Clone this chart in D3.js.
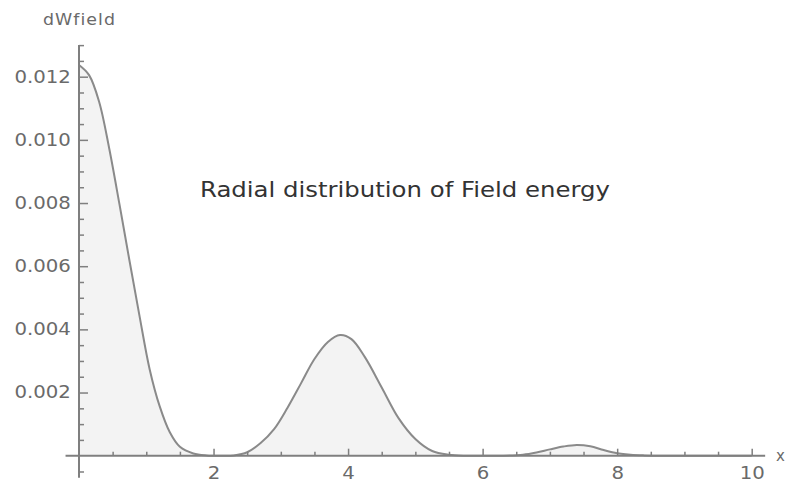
<!DOCTYPE html>
<html>
<head>
<meta charset="utf-8">
<script src="https://cdn.jsdelivr.net/npm/d3@7"></script>
<style>
  body { margin: 0; background: #fff; }
  svg { display: block; }
</style>
</head>
<body>
<div id="container"></div>
<script>
// radial distance r and field energy density dWfield
var rValues = [0, 0.15, 0.3, 0.45, 0.6, 0.75, 0.9, 1.05, 1.2, 1.35, 1.5, 1.7, 1.9, 2.1, 2.3,
    2.5, 2.7, 2.9, 3.1, 3.3, 3.5, 3.7, 3.88, 4.05, 4.25, 4.5, 4.75, 5.0, 5.25, 5.5, 5.75,
    6.0, 6.3, 6.6, 6.8, 7.0, 7.2, 7.4, 7.6, 7.8, 8.0, 8.2, 8.4, 8.7, 9.0, 9.5, 10.0];
var wValues = [12.37, 12.05, 11.2, 9.72, 7.98, 6.18, 4.42, 2.74, 1.56, 0.74, 0.28, 0.07, 0.01, 0.0, 0.01,
    0.11, 0.40, 0.84, 1.52, 2.29, 3.06, 3.6, 3.82, 3.69, 3.12, 2.16, 1.19, 0.53, 0.15, 0.03, 0.0,
    0.0, 0.0, 0.03, 0.10, 0.20, 0.29, 0.34, 0.30, 0.18, 0.08, 0.03, 0.01, 0.0, 0.0, 0.0, 0.0]
    .map(v => v / 1000);

var xMajorTicks = [2, 4, 6, 8, 10];
var xMinorTicks = [0.5, 1, 1.5, 2.5, 3, 3.5, 4.5, 5, 5.5, 6.5, 7, 7.5, 8.5, 9, 9.5];
var yMajorTicks = [0.002, 0.004, 0.006, 0.008, 0.010, 0.012];
var yMinorTicks = [-0.0005, 0.0005, 0.001, 0.0015, 0.0025, 0.003, 0.0035, 0.0045, 0.005, 0.0055,
    0.0065, 0.007, 0.0075, 0.0085, 0.009, 0.0095, 0.0105, 0.011, 0.0115, 0.0125, 0.013];

var titleText = "Radial distribution of Field energy";
var yLabel = "dWfield";
var xLabel = "x";

var svgWidth = 789, svgHeight = 489;
var axisColor = "#7f7f7f";
var labelColor = "#6a6a6a";
var stretch = 1.16; // the original text is a bit wider than DejaVu

var data = rValues.map((r, i) => ({ r: r, w: wValues[i] }));

var svg = d3.select("div#container")
    .append("svg")
    .attr("width", svgWidth)
    .attr("height", svgHeight);

// --- SCALES ---
var x = d3.scaleLinear().domain([0, 10]).range([79, 751.7]);
var y = d3.scaleLinear().domain([0, 0.012]).range([455.7, 76.7]);

// --- FILLED CURVE ---
var curve = d3.curveCatmullRom.alpha(0.5);

var area = d3.area()
    .x(d => x(d.r))
    .y0(y(0))
    .y1(d => y(d.w))
    .curve(curve);

var line = d3.line()
    .x(d => x(d.r))
    .y(d => y(d.w))
    .curve(curve);

svg.append("path")
    .datum(data)
    .attr("d", area)
    .attr("fill", "#f3f3f3");

svg.append("path")
    .datum(data)
    .attr("d", line)
    .attr("fill", "none")
    .attr("stroke", "#8a8a8a")
    .attr("stroke-width", 2);

// --- AXES (ticks point inwards, Mathematica style) ---
function styleAxis(g) {
    g.select(".domain").remove();
    g.selectAll(".tick line").attr("stroke", axisColor).attr("stroke-width", 1.5);
    g.selectAll(".tick text")
        .attr("fill", labelColor)
        .style("font-family", "DejaVu Sans")
        .style("font-size", "17px");
}

// x minor / major
svg.append("g")
    .attr("transform", "translate(0," + y(0) + ")")
    .call(d3.axisBottom(x).tickValues(xMinorTicks).tickSizeInner(-4).tickSizeOuter(0).tickFormat(""))
    .call(styleAxis);

var xAxis = svg.append("g")
    .attr("transform", "translate(0," + y(0) + ")")
    .call(d3.axisBottom(x).tickValues(xMajorTicks).tickSizeInner(-7).tickSizeOuter(0)
        .tickPadding(11).tickFormat(d3.format("d")))
    .call(styleAxis);
xAxis.selectAll(".tick text").attr("transform", "scale(" + stretch + ",1)");

// y minor / major
svg.append("g")
    .attr("transform", "translate(" + x(0) + ",0)")
    .call(d3.axisLeft(y).tickValues(yMinorTicks).tickSizeInner(-5).tickSizeOuter(0).tickFormat(""))
    .call(styleAxis);

var yAxis = svg.append("g")
    .attr("transform", "translate(" + x(0) + ",0)")
    .call(d3.axisLeft(y).tickValues(yMajorTicks).tickSizeInner(-9).tickSizeOuter(0)
        .tickPadding(7).tickFormat(d3.format(".3f")))
    .call(styleAxis);
yAxis.selectAll(".tick text").attr("transform", "scale(" + stretch + ",1)");

// axis lines, a little longer than the plot range
svg.append("line")
    .attr("x1", x(-0.2)).attr("x2", x(10.2))
    .attr("y1", y(0)).attr("y2", y(0))
    .attr("stroke", axisColor).attr("stroke-width", 2);

svg.append("line")
    .attr("x1", x(0)).attr("x2", x(0))
    .attr("y1", y(-0.0007)).attr("y2", y(0.013))
    .attr("stroke", axisColor).attr("stroke-width", 2);

// --- LABELS ---
svg.append("text")
    .attr("transform", "translate(43,25) scale(" + stretch + ",1)")
    .attr("fill", labelColor)
    .style("font-family", "DejaVu Sans")
    .style("font-size", "15px")
    .style("letter-spacing", "0.9px")
    .text(yLabel);

svg.append("text")
    .attr("transform", "translate(776," + (y(0) + 5) + ")")
    .attr("fill", labelColor)
    .style("font-family", "DejaVu Sans")
    .style("font-size", "15px")
    .text(xLabel);

svg.append("text")
    .attr("transform", "translate(200,196.5) scale(1.19,1)")
    .attr("fill", "#333")
    .style("font-family", "DejaVu Sans")
    .style("font-size", "20.5px")
    .text(titleText);
</script>
</body>
</html>
